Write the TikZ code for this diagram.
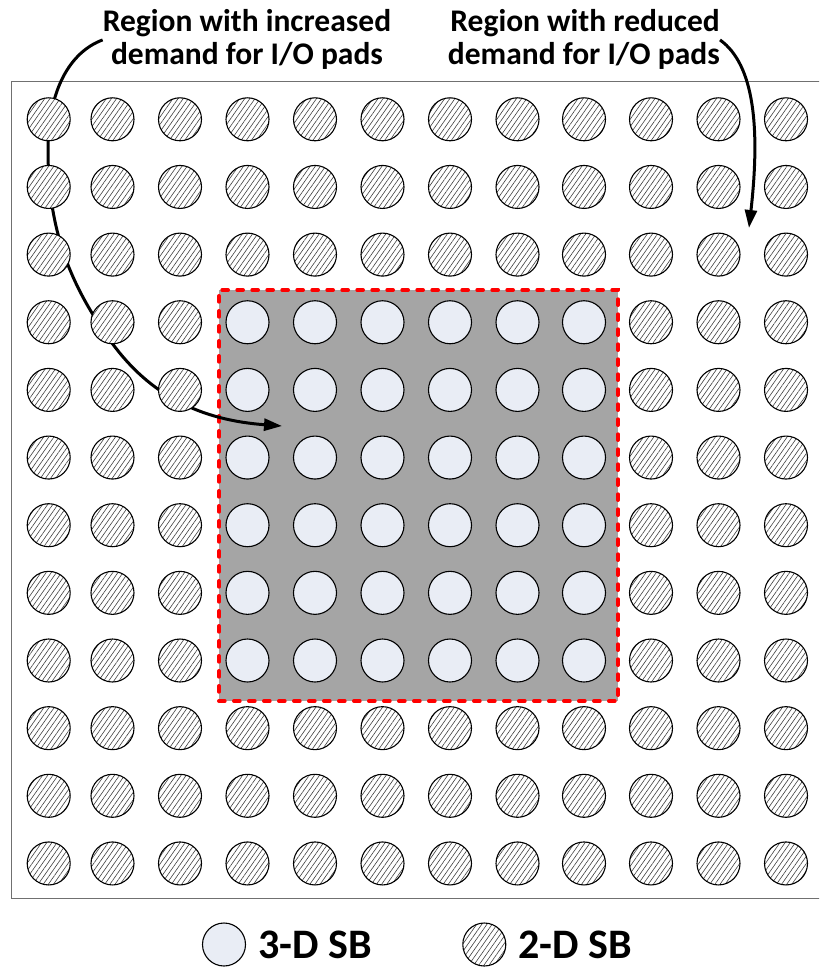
\documentclass[tikz,border=0pt]{standalone}
\usepackage{fontspec}
\setmainfont{Carlito}
\usepackage{tikz}
\usetikzlibrary{arrows.meta,positioning,calc,patterns.meta}
\definecolor{coregray}{RGB}{165,165,165}
\definecolor{sbthree}{RGB}{233,237,245}
\definecolor{frame}{RGB}{112,112,112}
\tikzset{
  threed/.style={circle, draw=black, line width=1.1pt, fill=sbthree, minimum size=43pt, inner sep=0pt},
  twod/.style={circle, draw=black, line width=1.1pt, minimum size=43pt, inner sep=0pt,
    preaction={fill=white}, pattern={Lines[angle=55,distance=4.2pt,line width=0.6pt]}, pattern color=black!75},
  chip/.style={draw=frame, line width=1.4pt, inner sep=0pt},
  hot/.style={draw=red, fill=coregray, line width=4pt, dash pattern=on 5.7pt off 9.3pt, line cap=round, inner sep=0pt},
  lbl/.style={font=\fontsize{31.5}{33}\selectfont\bfseries, inner sep=0pt},
  leg/.style={font=\fontsize{42}{44}\selectfont\bfseries, inner sep=0pt},
  flow/.style={line width=3pt, -{Triangle[length=18pt,width=12pt]}}
}
\begin{document}
\begin{tikzpicture}[x=1pt, y=-1pt]
  \clip (0,0) rectangle (819,968);
  \node[chip, anchor=north west, minimum width=811pt, minimum height=817pt] (pkg) at (11,81) {};
  \node[hot, anchor=north west, minimum width=399pt, minimum height=411pt] (core) at (217,288) {};

  \node[lbl, align=center, anchor=base] (inc) at (247,65) {Region with increased\\demand for I/O pads};
  \node[lbl, align=right, anchor=base east] (red) at (720,65) {Region with reduced\\demand for I/O pads};

  % arrows go under the pads
  \coordinate (incEnd) at (282,426);
  \coordinate (redEnd) at (749,228);
  \draw[flow] (inc.west) .. controls (70,52) and (48,90) .. (48,150)
    .. controls (48,230) and (70,285) .. (112,343)
    .. controls (150,395) and (200,420) .. (incEnd);
  \draw[flow] (red.east) .. controls (755,65) and (760,130) .. (redEnd);

  % pad grid
  \foreach \x [count=\i from 0] in {48.7,112.5,180,247.5,315,382.5,450,517.5,584,651,718.5,786} {
    \foreach \j in {0,...,11} {
      \pgfmathtruncatemacro\incore{(\i>2)*(\i<9)*(\j>2)*(\j<9)}
      \ifnum\incore=1
        \node[threed] (sb-\j-\i) at (\x,{119.3+67.65*\j}) {};
      \else
        \node[twod] (sb-\j-\i) at (\x,{119.3+67.65*\j}) {};
      \fi
    }
  }

  % legend
  \node[threed] (leg3) at (224,944.5) {};
  \node[leg, anchor=west] (leg3t) at ($(leg3.east)+(12,0)$) {3-D SB};
  \node[twod] (leg2) at (484.3,944.5) {};
  \node[leg, anchor=west] (leg2t) at ($(leg2.east)+(12,0)$) {2-D SB};
\end{tikzpicture}
\end{document}
